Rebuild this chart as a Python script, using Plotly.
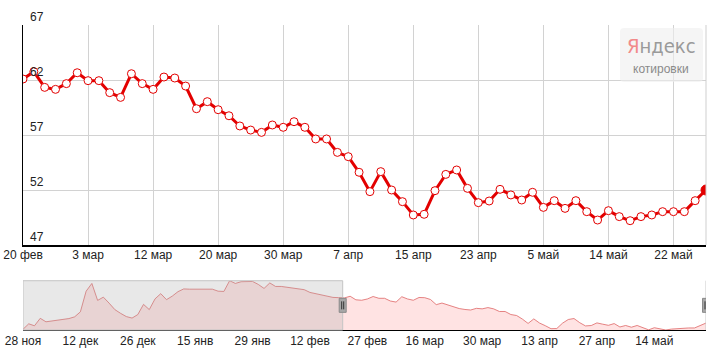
import plotly.graph_objects as go

# ---------------- data ----------------
main_labels = ["20 фев", "3 мар", "12 мар", "20 мар", "30 мар", "7 апр",
               "15 апр", "23 апр", "5 май", "14 май", "22 май"]
main_values = [62.09, 62.76, 61.33, 61.15, 61.67, 62.66, 61.94, 61.94, 60.85, 60.42,
               62.57, 61.67, 61.15, 62.27, 62.18, 61.45, 59.39, 60.03, 59.30, 58.75,
               57.82, 57.45, 57.24, 57.91, 57.70, 58.21, 57.70, 56.64, 56.64, 55.42,
               55.03, 53.61, 51.85, 53.67, 52.00, 50.94, 49.73, 49.79, 51.94, 53.42,
               53.82, 52.15, 50.85, 51.00, 52.06, 51.55, 51.09, 51.79, 50.42, 51.03,
               50.33, 51.03, 50.03, 49.27, 50.12, 49.58, 49.21, 49.58, 49.73, 50.03,
               50.03, 50.03, 51.03, 52.00]
y_ticks = [47, 52, 57, 62, 67]

nav_labels = ["28 ноя", "12 дек", "26 дек", "15 янв", "29 янв", "12 фев",
              "27 фев", "16 мар", "30 мар", "13 апр", "27 апр", "14 май"]
nav_history = [49.5, 51.7, 50.9, 53.9, 52.5, 52.8, 53.2, 53.6, 53.8, 54.5,
               56.5, 64.8, 67.9, 61.1, 62.4, 60.0, 57.4, 55.9, 54.6, 54.0,
               55.4, 59.5, 57.4, 61.7, 63.8, 61.4, 62.8, 64.6, 65.7, 65.6,
               65.6, 65.7, 65.6, 65.6, 64.8, 64.7, 69.0, 67.9, 68.6, 68.7,
               68.7, 67.5, 65.9, 68.1, 66.7, 66.7, 66.4, 66.0, 65.6, 65.4,
               64.3, 63.8, 63.2, 62.5, 62.3, 62.2]

# ---------------- derived ----------------
RED = "#e30000"
FONT = "Liberation Sans, Arial, sans-serif"
n_main = len(main_values)
main_x = list(range(n_main))
main_tickvals = [i * 6 for i in range(len(main_labels))]

nav_values = nav_history + main_values
nav_x = list(range(len(nav_values)))
nav_tickvals = [i * 10 for i in range(len(nav_labels))]
win_start = len(nav_history) - 0.3
nav_end = len(nav_values) - 1

marker_colors = ["#ffffff"] * (n_main - 1) + [RED]
marker_sizes = [8] * (n_main - 1) + [10]

fig = go.Figure()
fig.add_trace(go.Scatter(
    x=main_x, y=main_values, mode="lines+markers",
    line=dict(color=RED, width=3),
    marker=dict(size=marker_sizes, color=marker_colors, opacity=1,
                line=dict(color=RED, width=1)),
    xaxis="x", yaxis="y", hoverinfo="skip"))
fig.add_trace(go.Scatter(
    x=nav_x, y=nav_values, mode="lines", fill="tozeroy",
    fillcolor="rgba(255,0,0,0.11)",
    line=dict(color="rgba(225,110,110,0.85)", width=1),
    xaxis="x2", yaxis="y2", hoverinfo="skip"))

tick_font = dict(family=FONT, size=12, color="#222")
fig.update_layout(
    width=718, height=351,
    margin=dict(l=23, r=12, t=25, b=21, autoexpand=False),
    paper_bgcolor="white", plot_bgcolor="white",
    showlegend=False, hovermode=False,
    xaxis=dict(domain=[0, 1], anchor="y", range=[0, n_main - 1], automargin=False,
               tickvals=main_tickvals, ticktext=main_labels, tickfont=tick_font,
               ticklabelstandoff=-2,
               showgrid=True, gridcolor="#d2d2d2", gridwidth=1,
               showline=True, linecolor="black", linewidth=2,
               ticks="", zeroline=False, fixedrange=True),
    yaxis=dict(domain=[0.2787, 1], anchor="x", range=[47, 67], automargin=False,
               tickvals=y_ticks, tickfont=tick_font,
               ticklabelposition="inside top", ticklabeloverflow="allow",
               ticklabelstandoff=6,
               showgrid=True, gridcolor="#d2d2d2", gridwidth=1,
               showline=True, linecolor="black", linewidth=1,
               ticks="", zeroline=False, fixedrange=True),
    xaxis2=dict(domain=[0, 1], anchor="y2", range=[0, nav_end], automargin=False,
                tickvals=nav_tickvals, ticktext=nav_labels, tickfont=tick_font,
                showgrid=False, showline=True, linecolor="black", linewidth=1,
                ticks="", zeroline=False, fixedrange=True),
    yaxis2=dict(domain=[0, 0.1616], anchor="x2", automargin=False,
                range=[min(nav_values), max(nav_values)],
                showticklabels=False, showgrid=False, showline=False,
                ticks="", zeroline=False, fixedrange=True),
)

shapes = []
# right border of the main plot
shapes.append(dict(type="line", xref="paper", yref="y domain", x0=1, x1=1, y0=0, y1=1,
                   line=dict(color="#cfcfcf", width=1)))
# navigator mask (outside the window)
shapes.append(dict(type="rect", xref="x2", yref="y2 domain", x0=0, x1=win_start, y0=0, y1=1,
                   fillcolor="rgba(170,170,170,0.27)", line=dict(color="#c4c4c4", width=1),
                   layer="above"))
# navigator right edge line
shapes.append(dict(type="line", xref="x2", yref="y2 domain", x0=nav_end, x1=nav_end, y0=0, y1=1,
                   line=dict(color="#c8c8c8", width=1)))
ymid = (min(nav_values) + max(nav_values)) / 2
for hx in [win_start, nav_end]:
    shapes.append(dict(type="rect", xref="x2", yref="y2", xsizemode="pixel", ysizemode="pixel",
                       xanchor=hx, yanchor=ymid, x0=-3.5, x1=3.5, y0=-7, y1=7,
                       fillcolor="#a8a8a8", line=dict(color="#8a8a8a", width=1), layer="above"))
    for dx in (-1, 1):
        shapes.append(dict(type="line", xref="x2", yref="y2", xsizemode="pixel", ysizemode="pixel",
                           xanchor=hx, yanchor=ymid, x0=dx, x1=dx, y0=-4, y1=4,
                           line=dict(color="#333", width=1), layer="above"))
# watermark box (rounded)
bx0, bx1 = (620 - 23) / 683, (703 - 23) / 683
by0, by1 = (330 - 82) / 305, (330 - 28) / 305
rx, ry = 4 / 683, 4 / 305
path = (f"M {bx0+rx},{by0} L {bx1-rx},{by0} Q {bx1},{by0} {bx1},{by0+ry} "
        f"L {bx1},{by1-ry} Q {bx1},{by1} {bx1-rx},{by1} L {bx0+rx},{by1} "
        f"Q {bx0},{by1} {bx0},{by1-ry} L {bx0},{by0+ry} Q {bx0},{by0} {bx0+rx},{by0} Z")
shapes.append(dict(type="path", xref="paper", yref="paper", path=path,
                   fillcolor="rgba(238,238,238,0.6)", line=dict(width=0)))
fig.update_layout(shapes=shapes)

fig.add_annotation(xref="paper", yref="paper", x=(661 - 23) / 683, y=(330 - 46) / 305,
                   xanchor="center", yanchor="middle",
                   text="<span style='color:#f28a8a'>Я</span>ндекс", showarrow=False,
                   font=dict(family="Liberation Sans Narrow, DejaVu Sans Condensed, Arial Narrow, sans-serif",
                             size=20, color="#9a9a9a"))
fig.add_annotation(xref="paper", yref="paper", x=(661 - 23) / 683, y=(330 - 69) / 305,
                   xanchor="center", yanchor="middle",
                   text="котировки", showarrow=False,
                   font=dict(family=FONT, size=12, color="#8a8a8a"))

fig.write_html("out.html")
